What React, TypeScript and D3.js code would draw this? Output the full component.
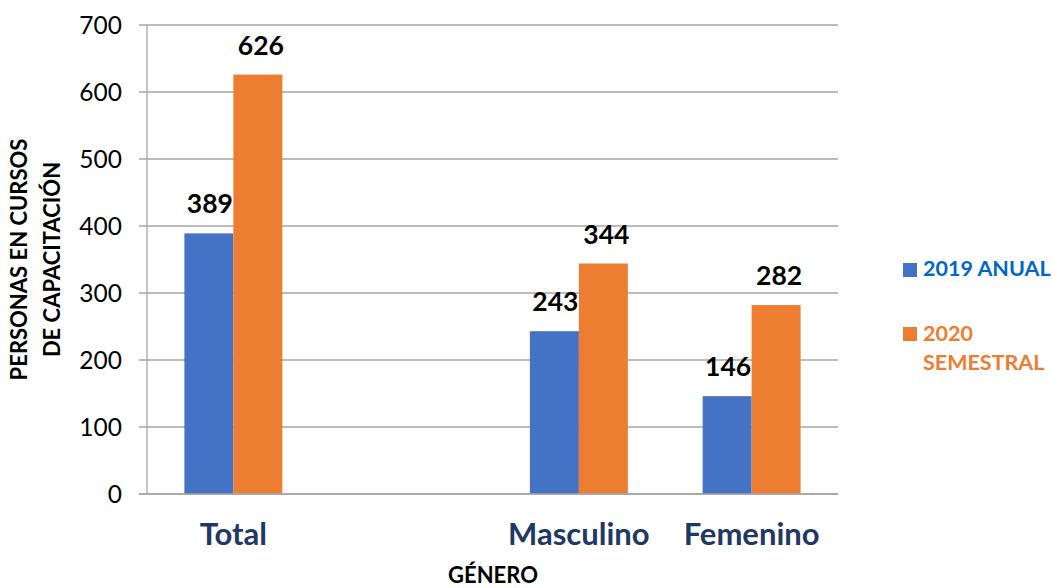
import React from "react";
import * as d3 from "d3";

const categories = ["Total", "", "Masculino", "Femenino"];
const series2019 = [389, null, 243, 146];
const series2020 = [626, null, 344, 282];
const seriesNames = ["2019 ANUAL", "2020 SEMESTRAL"];
const yTicks = [0, 100, 200, 300, 400, 500, 600, 700];

const W = 1052;
const H = 588;
const left = 147;
const right = 838;
const top = 25;
const bottom = 494;
const BLUE = "#4472C4";
const ORANGE = "#ED7D31";
const FONT = "Lato, 'Open Sans', sans-serif";

export default function App() {
  const x = d3.scaleBand<string>().domain(categories.map((c, i) => String(i))).range([left, right]).paddingInner(0.433).paddingOuter(0.2165);
  const inner = d3.scaleBand<string>().domain(["0", "1"]).range([0, x.bandwidth()]);
  const y = d3.scaleLinear().domain([0, 700]).range([bottom, top]);
  const series = [series2019, series2020];
  const colors = [BLUE, ORANGE];

  return (
    <svg width={W} height={H} style={{ position: "absolute", left: 0, top: 0, background: "#fff" }}>
      {yTicks.map((t) => (
        <g key={t}>
          <line x1={left - 8} x2={right} y1={y(t)} y2={y(t)} stroke="#A6A6A6" strokeWidth={1.3} />
          <text x={122} y={y(t) + 8.5} textAnchor="end" fontFamily={FONT} fontSize={24.5} fill="#000">{t}</text>
        </g>
      ))}
      <line x1={left} x2={left} y1={top} y2={bottom} stroke="#A6A6A6" strokeWidth={1.3} />
      {series.map((s, si) =>
        s.map((v, ci) => {
          if (v == null) return null;
          const bx = (x(String(ci)) as number) + (inner(String(si)) as number);
          const bw = inner.bandwidth();
          return (
            <g key={`${si}-${ci}`}>
              <rect x={bx} y={y(v)} width={bw} height={bottom - y(v)} fill={colors[si]} />
              <text x={bx + bw / 2 + (si === 1 ? 3 : 1)} y={y(v) - 20} textAnchor="middle" fontFamily={FONT} fontWeight="bold" fontSize={26.5} fill="#000">{v}</text>
            </g>
          );
        })
      )}
      <line x1={left - 8} x2={right} y1={bottom} y2={bottom} stroke="#A6A6A6" strokeWidth={1.3} />
      {categories.map((c, i) => (
        <text key={i} x={(x(String(i)) as number) + x.bandwidth() / 2} y={545} textAnchor="middle" fontFamily={FONT} fontWeight="bold" fontSize={31} fill="#1F3864">{c}</text>
      ))}
      <text x={493} y={583} textAnchor="middle" fontFamily={FONT} fontWeight="bold" fontSize={22} fill="#000">GÉNERO</text>
      <g transform={`translate(0, ${(top + bottom) / 2}) rotate(-90)`}>
        <text x={0} y={27} textAnchor="middle" fontFamily={FONT} fontWeight="bold" fontSize={22} fill="#000">PERSONAS EN CURSOS</text>
        <text x={0} y={60} textAnchor="middle" fontFamily={FONT} fontWeight="bold" fontSize={22} fill="#000">DE CAPACITACIÓN</text>
      </g>
      <rect x={903} y={263} width={14} height={14} fill={BLUE} />
      <text x={923} y={276} fontFamily={FONT} fontWeight="bold" fontSize={21.5} fill="#0066CC">{seriesNames[0]}</text>
      <rect x={903} y={327} width={14} height={14} fill={ORANGE} />
      <text x={923} y={341} fontFamily={FONT} fontWeight="bold" fontSize={21.5} fill={ORANGE}>{seriesNames[1].split(" ")[0]}</text>
      <text x={923} y={370} fontFamily={FONT} fontWeight="bold" fontSize={21.5} fill={ORANGE}>{seriesNames[1].split(" ")[1]}</text>
    </svg>
  );
}
